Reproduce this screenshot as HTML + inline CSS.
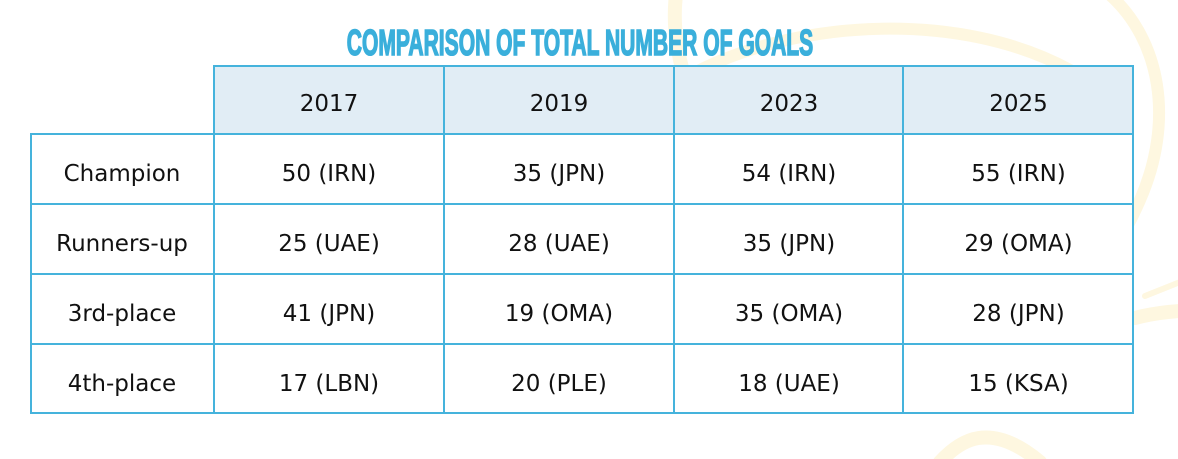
<!DOCTYPE html>
<html>
<head>
<meta charset="utf-8">
<style>
  html, body { margin:0; padding:0; }
  body { width:1178px; height:459px; position:relative; overflow:hidden; background:#ffffff; }
  .bg { position:absolute; left:0; top:0; }
  .title {
    position:absolute; left:0; width:1160px; top:25px; text-align:center;
    font-family:"Liberation Sans", sans-serif; font-weight:bold; font-size:36px; line-height:36px;
    color:#3aafdb; -webkit-text-stroke:1.6px #3aafdb; letter-spacing:0px;
    transform:scaleX(0.585); transform-origin:580px 0;
    white-space:nowrap;
  }
  .hdr { position:absolute; left:214px; top:65px; width:919px; height:69px; background:#e1edf5; }
  .body { position:absolute; left:30px; top:134px; width:1103px; height:279px; background:#ffffff; }
  .hl { position:absolute; height:2px; background:#45b3dc; }
  .vl { position:absolute; width:2px; background:#45b3dc; }
  .t {
    position:absolute; font-family:"DejaVu Sans", "Liberation Sans", sans-serif; font-size:23px; line-height:23px;
    color:#111; text-align:center; white-space:nowrap;
  }
</style>
</head>
<body>
<svg class="bg" width="1178" height="459" viewBox="0 0 1178 459">
  <g fill="none" stroke="#fef7e0" stroke-linecap="round">
    <path d="M676 -5 C 668 60, 700 140, 760 200" stroke-width="14"/>
    <path d="M700 70 C 800 20, 960 10, 1070 70" stroke-width="12"/>
    <path d="M1110 -5 C 1160 40, 1175 120, 1140 200 C 1110 270, 1060 320, 1000 350" stroke-width="12"/>
    <path d="M940 462 C 960 440, 990 420, 1040 462" stroke-width="14"/>
    <path d="M1135 318 C 1150 314, 1165 312, 1180 311" stroke-width="14"/>
    <path d="M1145 296 L 1180 282" stroke-width="6"/>
  </g>
</svg>

<div class="title">COMPARISON OF TOTAL NUMBER OF GOALS</div>

<div class="hdr"></div>
<div class="body"></div>

<!-- horizontal lines -->
<div class="hl" style="left:214px; width:920px; top:65px;"></div>
<div class="hl" style="left:30px; width:1104px; top:133px;"></div>
<div class="hl" style="left:30px; width:1104px; top:203px;"></div>
<div class="hl" style="left:30px; width:1104px; top:273px;"></div>
<div class="hl" style="left:30px; width:1104px; top:343px;"></div>
<div class="hl" style="left:30px; width:1104px; top:412px;"></div>

<!-- vertical lines -->
<div class="vl" style="left:30px; top:133px; height:281px;"></div>
<div class="vl" style="left:213px; top:65px; height:349px;"></div>
<div class="vl" style="left:443px; top:65px; height:349px;"></div>
<div class="vl" style="left:673px; top:65px; height:349px;"></div>
<div class="vl" style="left:902px; top:65px; height:349px;"></div>
<div class="vl" style="left:1132px; top:65px; height:349px;"></div>

<!-- header -->
<div class="t" style="left:214px; width:230px; top:93px;">2017</div>
<div class="t" style="left:444px; width:230px; top:93px;">2019</div>
<div class="t" style="left:674px; width:230px; top:93px;">2023</div>
<div class="t" style="left:904px; width:229px; top:93px;">2025</div>

<!-- row 1 -->
<div class="t" style="left:30px; width:184px; top:163px;">Champion</div>
<div class="t" style="left:214px; width:230px; top:163px;">50 (IRN)</div>
<div class="t" style="left:444px; width:230px; top:163px;">35 (JPN)</div>
<div class="t" style="left:674px; width:230px; top:163px;">54 (IRN)</div>
<div class="t" style="left:904px; width:229px; top:163px;">55 (IRN)</div>

<!-- row 2 -->
<div class="t" style="left:30px; width:184px; top:233px;">Runners-up</div>
<div class="t" style="left:214px; width:230px; top:233px;">25 (UAE)</div>
<div class="t" style="left:444px; width:230px; top:233px;">28 (UAE)</div>
<div class="t" style="left:674px; width:230px; top:233px;">35 (JPN)</div>
<div class="t" style="left:904px; width:229px; top:233px;">29 (OMA)</div>

<!-- row 3 -->
<div class="t" style="left:30px; width:184px; top:303px;">3rd-place</div>
<div class="t" style="left:214px; width:230px; top:303px;">41 (JPN)</div>
<div class="t" style="left:444px; width:230px; top:303px;">19 (OMA)</div>
<div class="t" style="left:674px; width:230px; top:303px;">35 (OMA)</div>
<div class="t" style="left:904px; width:229px; top:303px;">28 (JPN)</div>

<!-- row 4 -->
<div class="t" style="left:30px; width:184px; top:373px;">4th-place</div>
<div class="t" style="left:214px; width:230px; top:373px;">17 (LBN)</div>
<div class="t" style="left:444px; width:230px; top:373px;">20 (PLE)</div>
<div class="t" style="left:674px; width:230px; top:373px;">18 (UAE)</div>
<div class="t" style="left:904px; width:229px; top:373px;">15 (KSA)</div>
</body>
</html>
